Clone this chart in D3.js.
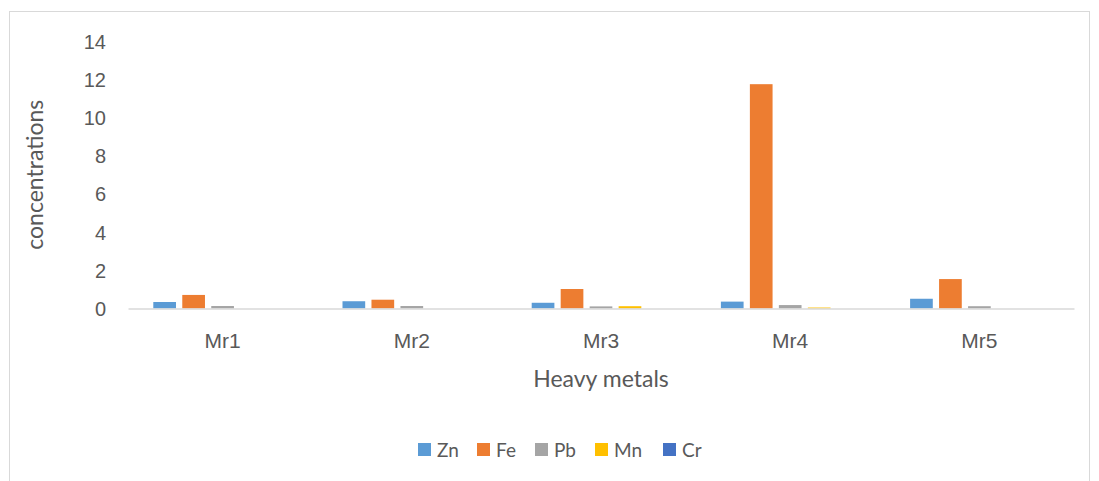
<!DOCTYPE html>
<html>
<head>
<meta charset="utf-8">
<script src="https://cdn.jsdelivr.net/npm/d3@7"></script>
<style>
  html, body { margin: 0; padding: 0; background: #ffffff; }
  svg { display: block; font-family: Lato, "Open Sans", sans-serif; }
</style>
</head>
<body>
<svg id="chart" width="1099" height="481"></svg>
<script>
// Sampling sites and metals measured at each one
const categories = ["Mr1", "Mr2", "Mr3", "Mr4", "Mr5"];
const seriesNames = ["Zn", "Fe", "Pb", "Mn", "Cr"];
const seriesColors = ["#5b9bd5", "#ed7d31", "#a5a5a5", "#ffc000", "#4472c4"];

// Concentrations per metal, one value per site
const zn = [0.34, 0.38, 0.30, 0.36, 0.51];
const fe = [0.71, 0.46, 1.02, 11.74, 1.54];
const pb = [0.13, 0.13, 0.11, 0.18, 0.12];
const mn = [0.00, 0.00, 0.12, 0.05, 0.00];
const cr = [0.00, 0.00, 0.00, 0.00, 0.00];

const yTicks = [0, 2, 4, 6, 8, 10, 12, 14];

const seriesValues = [zn, fe, pb, mn, cr];

const svg = d3.select("#chart");

// Outer chart frame
svg.append("rect")
  .attr("x", 9.5).attr("y", 11.5)
  .attr("width", 1080).attr("height", 480)
  .attr("fill", "#ffffff")
  .attr("stroke", "#d9d9d9").attr("stroke-width", 1);

const plot = { left: 128, right: 1074, top: 41, bottom: 308.5 };

const x0 = d3.scaleBand()
  .domain(categories)
  .range([plot.left, plot.right])
  .paddingInner(0).paddingOuter(0);

const groupPad = 25.3;
const x1 = d3.scaleBand()
  .domain(seriesNames)
  .range([groupPad, x0.bandwidth() - groupPad])
  .paddingInner(0.217).paddingOuter(0);

const y = d3.scaleLinear()
  .domain([0, 14])
  .range([plot.bottom, plot.top]);

const textColor = "#595959";

// Y axis tick labels (no axis line, no gridlines)
const yAxis = d3.axisLeft(y).tickValues(yTicks).tickSize(0).tickPadding(0);
const yg = svg.append("g")
  .attr("transform", `translate(${plot.left - 22},0)`)
  .call(yAxis);
yg.select(".domain").remove();
yg.selectAll("text")
  .attr("fill", textColor)
  .style("font-size", "20px")
  .attr("text-anchor", "end")
  .attr("dy", "0.35em");

// Bars
const groups = svg.append("g").selectAll("g")
  .data(categories)
  .join("g")
  .attr("transform", d => `translate(${x0(d)},0)`);

groups.selectAll("rect")
  .data((c, ci) => seriesNames.map((s, si) => ({ s, si, v: seriesValues[si][ci] })))
  .join("rect")
  .attr("x", d => x1(d.s))
  .attr("width", x1.bandwidth())
  .attr("y", d => y(d.v))
  .attr("height", d => y(0) - y(d.v))
  .attr("fill", d => seriesColors[d.si]);

// Category axis
const xAxis = d3.axisBottom(x0).tickSize(0).tickPadding(0);
const xg = svg.append("g")
  .attr("transform", `translate(0,${plot.bottom})`)
  .call(xAxis);
xg.select(".domain").attr("stroke", "#d9d9d9").attr("stroke-width", 1.5);
xg.selectAll("text")
  .attr("fill", textColor)
  .style("font-size", "21px")
  .attr("y", 39)
  .attr("dy", "0");

// Axis titles
svg.append("text")
  .attr("x", (plot.left + plot.right) / 2)
  .attr("y", 387)
  .attr("text-anchor", "middle")
  .attr("fill", textColor)
  .style("font-size", "23px")
  .text("Heavy metals");

svg.append("text")
  .attr("transform", `translate(35,${(plot.top + plot.bottom) / 2}) rotate(-90)`)
  .attr("text-anchor", "middle")
  .attr("dy", "0.35em")
  .attr("fill", textColor)
  .style("font-size", "23px")
  .text("concentrations");

// Legend
const legendX = [418, 477, 535, 595, 663];
const legend = svg.append("g").selectAll("g")
  .data(seriesNames)
  .join("g")
  .attr("transform", (d, i) => `translate(${legendX[i]},443)`);
legend.append("rect")
  .attr("width", 13).attr("height", 13)
  .attr("fill", (d, i) => seriesColors[i]);
legend.append("text")
  .attr("x", 19).attr("y", 7)
  .attr("dy", "0.35em")
  .attr("fill", textColor)
  .style("font-size", "19px")
  .text(d => d);
</script>
</body>
</html>
